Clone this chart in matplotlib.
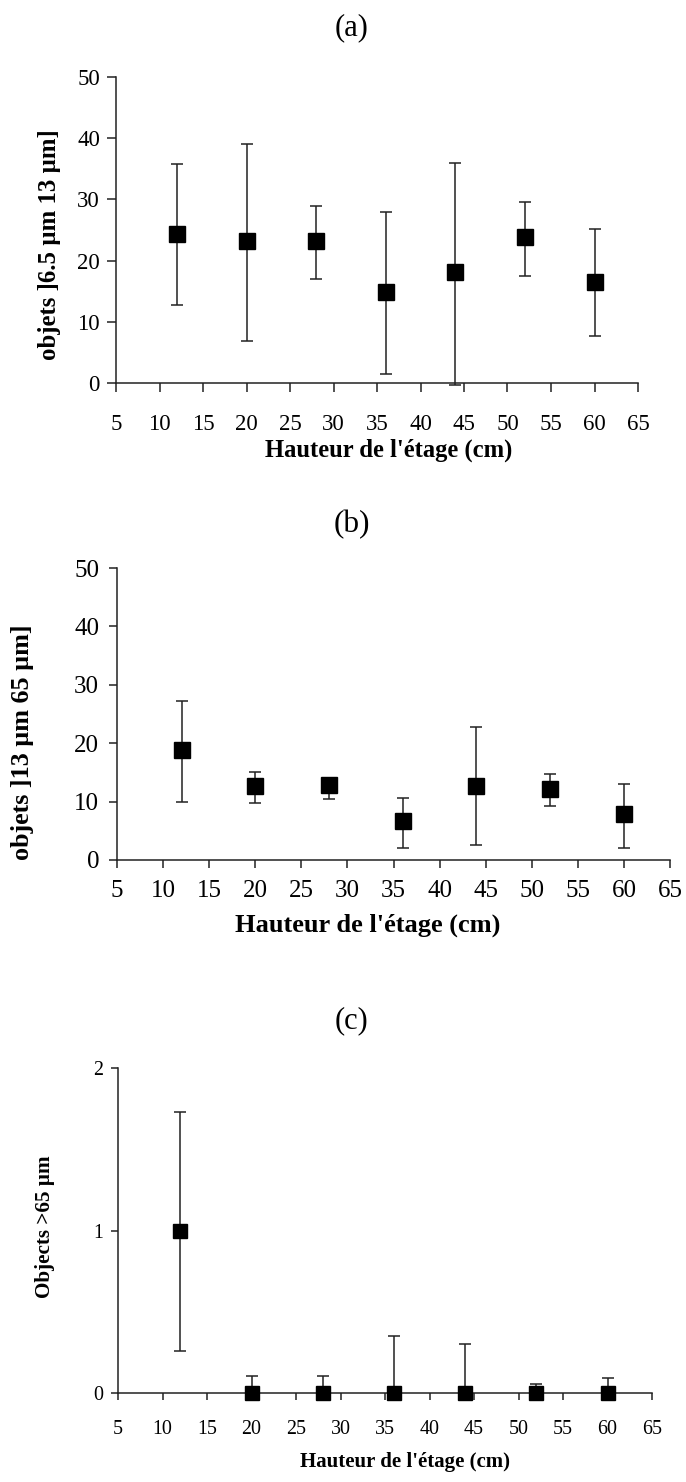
import matplotlib
matplotlib.use("Agg")
import matplotlib.pyplot as plt
import numpy as np

plt.rcParams['font.family'] = ['Liberation Serif', 'DejaVu Serif']

# ---- data ----
heights = [12, 20, 28, 36, 44, 52, 60]

a_mean = [24.3, 23.2, 23.2, 14.9, 18.1, 23.8, 16.5]
a_low = [12.7, 6.9, 17.0, 1.5, -0.3, 17.5, 7.6]
a_high = [35.8, 39.1, 28.9, 27.9, 35.9, 29.5, 25.1]

b_mean = [18.8, 12.7, 12.8, 6.6, 12.7, 12.1, 7.8]
b_low = [9.9, 9.8, 10.4, 2.0, 2.6, 9.2, 2.0]
b_high = [27.3, 15.0, 14.1, 10.7, 22.7, 14.7, 13.0]

c_mean = [1.0, 0.0, 0.0, 0.0, 0.0, 0.0, 0.0]
c_low = [0.26, 0.0, 0.0, 0.0, 0.0, 0.0, 0.0]
c_high = [1.73, 0.105, 0.105, 0.35, 0.30, 0.056, 0.09]

x_ticks = [5, 10, 15, 20, 25, 30, 35, 40, 45, 50, 55, 60, 65]
titles = ["(a)", "(b)", "(c)"]
xlab = "Hauteur de l'étage (cm)"
ylabs = ["objets ]6.5 µm 13 µm]", "objets ]13 µm 65 µm]", "Objects >65 µm"]

W, H = 686, 1482
fig = plt.figure(figsize=(W / 100, H / 100), dpi=100)


def fx(px):
    return px / W


def fy(py):
    return 1 - py / H


def make_axes(x0, x1, ytop, ybot):
    return fig.add_axes([fx(x0), fy(ybot), fx(x1 - x0), (ybot - ytop) / H])


panels = [
    dict(box=(116, 638, 77, 383), mean=a_mean, low=a_low, high=a_high,
         ylim=(0, 50), yticks=[0, 10, 20, 30, 40, 50], tfs=16.5, ms=11.5,
         tl=9, xpad=22, ypad=7, xl=(389, 450), xlfs=17.7, yl=(50, 245), ylfs=17.8,
         title=(352, 28), tifs=22),
    dict(box=(117, 670, 568, 860), mean=b_mean, low=b_low, high=b_high,
         ylim=(0, 50), yticks=[0, 10, 20, 30, 40, 50], tfs=18, ms=12,
         tl=8, xpad=12, ypad=10, xl=(368, 925), xlfs=19, yl=(23, 742), ylfs=18.8,
         title=(352, 525), tifs=22.5),
    dict(box=(118, 652, 1068, 1393), mean=c_mean, low=c_low, high=c_high,
         ylim=(0, 2), yticks=[0, 1, 2], tfs=14.4, ms=10,
         tl=7, xpad=20, ypad=8, xl=(405, 1462), xlfs=15, yl=(45, 1227), ylfs=15.2,
         title=(352, 1021), tifs=22),
]

for i, p in enumerate(panels):
    x0, x1, yt, yb = p['box']
    ax = make_axes(x0, x1, yt, yb)
    mean = np.array(p['mean'])
    yerr = np.array([mean - np.array(p['low']), np.array(p['high']) - mean])
    ax.errorbar(heights, mean, yerr=yerr, fmt='s', color='black', ms=p['ms'],
                mfc='black', mec='black', ecolor='#222222', elinewidth=1.1,
                capsize=4.3, capthick=1.1, clip_on=False, zorder=3)
    ax.set_xlim(5, 65)
    ax.set_ylim(*p['ylim'])
    ax.set_xticks(x_ticks)
    ax.set_yticks(p['yticks'])
    for s in ['top', 'right']:
        ax.spines[s].set_visible(False)
    for s in ['left', 'bottom']:
        ax.spines[s].set_linewidth(1.1)
        ax.spines[s].set_color('#222222')
    ax.tick_params(axis='both', direction='out', length=p['tl'] * 0.72,
                   width=1.1, color='#222222', labelsize=p['tfs'])
    ax.tick_params(axis='x', pad=p['xpad'] * 0.72)
    ax.tick_params(axis='y', pad=p['ypad'] * 0.72)

    fig.text(fx(p['xl'][0]), fy(p['xl'][1]), xlab, ha='center', va='center',
             fontsize=p['xlfs'], fontweight='bold')
    fig.text(fx(p['yl'][0]), fy(p['yl'][1]), ylabs[i], ha='center', va='center',
             rotation=90, fontsize=p['ylfs'], fontweight='bold')
    fig.text(fx(p['title'][0]), fy(p['title'][1]), titles[i], ha='center',
             va='center', fontsize=p['tifs'])

fig.savefig("out.png", dpi=100)
